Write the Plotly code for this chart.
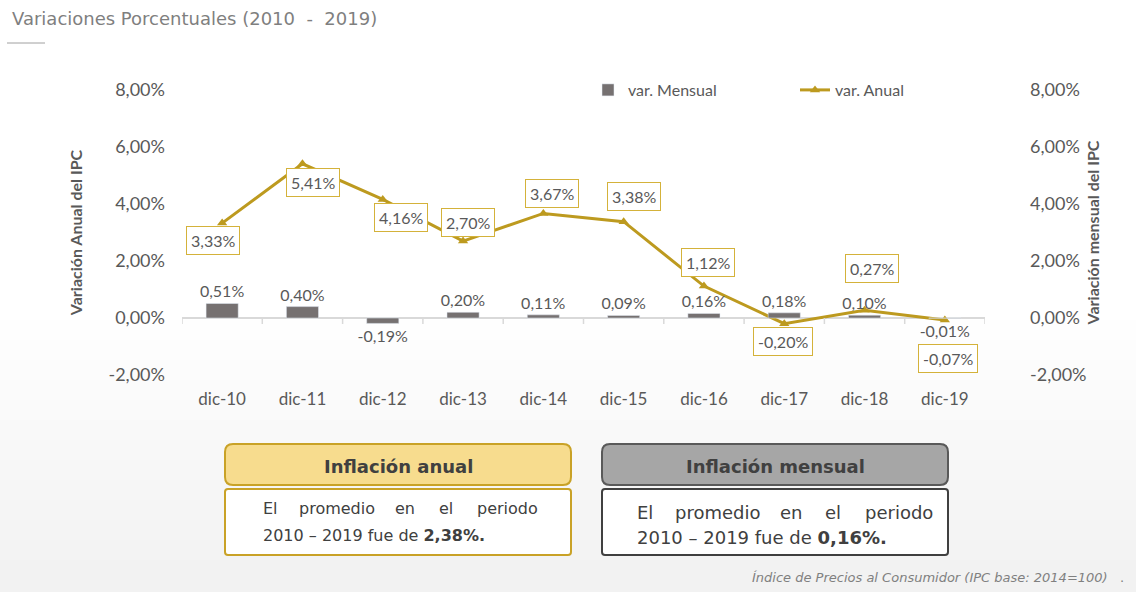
import plotly.graph_objects as go

# datos
categorias = ["dic-10", "dic-11", "dic-12", "dic-13", "dic-14",
              "dic-15", "dic-16", "dic-17", "dic-18", "dic-19"]
var_mensual = [0.51, 0.40, -0.19, 0.20, 0.11, 0.09, 0.16, 0.18, 0.10, -0.01]
var_anual = [3.33, 5.41, 4.16, 2.70, 3.67, 3.38, 1.12, -0.20, 0.27, -0.07]
ticks_y = [-2, 0, 2, 4, 6, 8]
prom_anual = "2,38%"
prom_mensual = "0,16%"

GRIS_BAR = "#767171"
ORO = "#BD9A1F"
TXT = "#595959"
FONT = "Lato"
FONT2 = "DejaVu Sans"

# plot area in pixels: x 182..985, y 90..375
L, R, T, B = 182, 985, 90, 375


def px(x):
    return (x - L) / (R - L)


def py(y):
    return (B - y) / (B - T)


def pct(v):
    return f"{v:.2f}%".replace(".", ",")


def caja(x0, y0, x1, y1, r):
    # rounded rectangle path, pixel coords -> paper
    pts = [
        f"M {px(x0 + r)},{py(y0)}",
        f"L {px(x1 - r)},{py(y0)}",
        f"Q {px(x1)},{py(y0)} {px(x1)},{py(y0 + r)}",
        f"L {px(x1)},{py(y1 - r)}",
        f"Q {px(x1)},{py(y1)} {px(x1 - r)},{py(y1)}",
        f"L {px(x0 + r)},{py(y1)}",
        f"Q {px(x0)},{py(y1)} {px(x0)},{py(y1 - r)}",
        f"L {px(x0)},{py(y0 + r)}",
        f"Q {px(x0)},{py(y0)} {px(x0 + r)},{py(y0)}",
        "Z",
    ]
    return " ".join(pts)


fig = go.Figure()
fig.add_trace(go.Bar(
    x=categorias, y=var_mensual, name="var. Mensual", yaxis="y2",
    marker_color=GRIS_BAR, width=0.4,
    text=[pct(v) for v in var_mensual], textposition="outside",
    constraintext="none",
    textfont=dict(size=16, color=TXT, family=FONT), cliponaxis=False,
))
fig.add_trace(go.Scatter(
    x=categorias, y=var_anual, name="var. Anual", mode="lines+markers",
    line=dict(color=ORO, width=3),
    marker=dict(symbol="triangle-up", size=9, color=ORO),
))

shapes = []
annotations = []

# fondo: degradado gris muy suave hacia abajo
for k in range(14):
    g = 255 - k
    shapes.append(dict(type="rect", xref="paper", yref="paper", layer="below",
                       x0=px(0), x1=px(1136), y0=py(300 + k * 20), y1=py(600),
                       fillcolor=f"rgb({g},{g},{g})", line_width=0))

# marcas de categoria sobre la linea del cero
for i in range(len(categorias) + 1):
    shapes.append(dict(type="line", xref="x", yref="y", ysizemode="pixel", yanchor=0,
                       x0=i - 0.5, x1=i - 0.5, y0=0, y1=-6,
                       line=dict(color="#d9d9d9", width=1.5)))

# etiquetas var. anual
desplaz = [(-9, -17), (11, -19), (18, -18), (5, 19), (9, 20),
           (10, 25), (4, 24), (-1, -18), (7, 42), (3, -38)]
for c, v, (dx, dy) in zip(categorias, var_anual, desplaz):
    annotations.append(dict(
        x=c, y=v, xref="x", yref="y", showarrow=False, yanchor="middle",
        text=pct(v), xshift=dx, yshift=dy,
        font=dict(size=16, color=TXT, family=FONT),
        bgcolor="white", bordercolor="#D4B23A", borderwidth=1, borderpad=4,
    ))


def texto(x, y, t, size, color="#404040", xanchor="left", family=FONT2):
    annotations.append(dict(xref="paper", yref="paper", x=px(x), y=py(y),
                            xanchor=xanchor, yanchor="middle", showarrow=False,
                            text=t, font=dict(size=size, color=color, family=family)))


# titulo y linea
texto(10, 18, "Variaciones Porcentuales (2010  -  2019)", 18, color="#7f7f7f")
shapes.append(dict(type="line", xref="paper", yref="paper", x0=px(7), x1=px(45),
                   y0=py(43), y1=py(43), line=dict(color="#a0a0a0", width=1)))

# cajas inferiores
shapes += [
    dict(type="path", xref="paper", yref="paper", path=caja(225, 444, 571, 485, 8),
         fillcolor="#F7DC8E", line=dict(color="#C9A227", width=2)),
    dict(type="path", xref="paper", yref="paper", path=caja(225, 489, 571, 555, 3),
         fillcolor="white", line=dict(color="#C9A227", width=2)),
    dict(type="path", xref="paper", yref="paper", path=caja(602, 444, 948, 485, 8),
         fillcolor="#A6A6A6", line=dict(color="#595959", width=2)),
    dict(type="path", xref="paper", yref="paper", path=caja(602, 489, 948, 555, 3),
         fillcolor="white", line=dict(color="#404040", width=2)),
]
texto(398, 466, "<b>Inflación anual</b>", 18, xanchor="center")
texto(775, 466, "<b>Inflación mensual</b>", 18, xanchor="center")

# primera linea justificada (posiciones de cada palabra)
palabras = ["El", "promedio", "en", "el", "periodo"]
for xs, yl1, yl2, fs, prom in [([261, 297, 393, 437, 475], 508, 535, 16, prom_anual),
                              ([635, 673, 778, 823, 863], 512, 537, 18, prom_mensual)]:
    for w, x in zip(palabras, xs):
        texto(x, yl1, w, fs)
    texto(xs[0], yl2, f"2010 – 2019 fue de <b>{prom}.</b>", fs)

texto(1126, 577, "<i>Índice de Precios al Consumidor (IPC base: 2014=100)</i>   .", 13,
      color="#808080", xanchor="right")

eje = dict(range=[-2, 8], tickvals=ticks_y, ticktext=[pct(v) for v in ticks_y],
           showgrid=False, tickfont=dict(size=18, color=TXT, family=FONT))

fig.update_layout(
    width=1136, height=592,
    margin=dict(l=L, r=1136 - R, t=T, b=592 - B),
    paper_bgcolor="white", plot_bgcolor="rgba(0,0,0,0)",
    font=dict(family=FONT, color=TXT),
    xaxis=dict(type="category", range=[-0.5, 9.5], showline=False, ticks="",
               tickfont=dict(size=17, color=TXT, family=FONT), ticklabelstandoff=12),
    yaxis=dict(**eje, zeroline=True, zerolinecolor="#d9d9d9", zerolinewidth=1.5,
               ticklabelstandoff=16,
               title=dict(text="<b>Variación Anual del IPC</b>", standoff=21,
                          font=dict(size=16, color=TXT, family=FONT))),
    yaxis2=dict(**eje, overlaying="y", side="right", zeroline=False,
                ticklabelstandoff=44,
                title=dict(text="<b>Variación mensual del IPC</b>", standoff=2,
                           font=dict(size=16, color=TXT, family=FONT))),
    legend=dict(orientation="h", x=px(588), y=1.0, xanchor="left", yanchor="middle",
                font=dict(size=16, color=TXT, family=FONT),
                entrywidth=162, entrywidthmode="pixels", bgcolor="rgba(0,0,0,0)"),
    shapes=shapes,
    annotations=annotations,
)

fig.write_html("out.html", config={"displayModeBar": False},
               post_script="document.body.style.margin='0px';")
